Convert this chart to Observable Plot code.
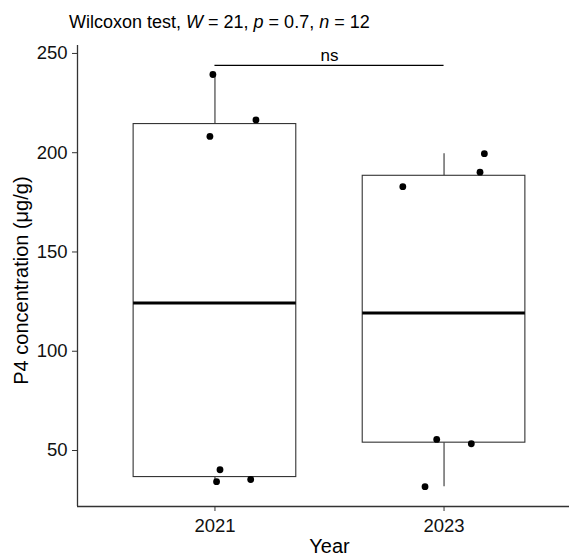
<!DOCTYPE html>
<html>
<head>
<meta charset="utf-8">
<script src="https://cdn.jsdelivr.net/npm/d3@7"></script>
<script src="https://cdn.jsdelivr.net/npm/@observablehq/plot@0.6"></script>
<style>
  html, body { margin: 0; padding: 0; background: #fff; }
  body { width: 569px; height: 557px; overflow: hidden; font-family: "Liberation Sans", Arial, sans-serif; }
  #title { height: 40px; box-sizing: border-box; padding-top: 13px; padding-left: 69px; font-size: 18px; line-height: 18px; color: #000; white-space: nowrap; }
  #chart svg { display: block; }
</style>
</head>
<body>
<div id="title"></div>
<div id="chart"></div>
<script>
// ---- data ----
const years = ["2021", "2023"];
const p4_2021 = [239.4, 216.5, 208.2, 40.3, 34.3, 35.4];
const p4_2023 = [199.5, 190.2, 182.9, 55.6, 53.4, 31.8];
const jitter_2021 = [-0.009, 0.179, -0.022, 0.022, 0.007, 0.156];
const jitter_2023 = [0.176, 0.157, -0.180, -0.032, 0.119, -0.083];
const yTicks = [50, 100, 150, 200, 250];
const testStats = { W: 21, p: 0.7, n: 12 };
const signifLabel = "ns";
const signifY = 244;
const yLabel = "P4 concentration (μg/g)";
const xLabel = "Year";

document.getElementById("title").innerHTML =
  `Wilcoxon test, <i>W</i> = ${testStats.W}, <i>p</i> = ${testStats.p}, <i>n</i> = ${testStats.n}`;

const groups = [
  { idx: 1, values: p4_2021, jitter: jitter_2021 },
  { idx: 2, values: p4_2023, jitter: jitter_2023 }
];

const points = groups.flatMap(g => g.values.map((v, i) => ({ x: g.idx + g.jitter[i], y: v })));

const boxW = 0.355;
const stats = groups.map(g => {
  const s = g.values.slice().sort(d3.ascending);
  const q1 = d3.quantile(s, 0.25), med = d3.quantile(s, 0.5), q3 = d3.quantile(s, 0.75);
  const iqr = q3 - q1;
  const lo = d3.min(s.filter(v => v >= q1 - 1.5 * iqr));
  const hi = d3.max(s.filter(v => v <= q3 + 1.5 * iqr));
  return { idx: g.idx, x1: g.idx - boxW, x2: g.idx + boxW, q1, med, q3, lo, hi };
});

const yMin = 21.8, yMax = 254;
const lineColor = "#333";

const plot = Plot.plot({
  width: 569,
  height: 517,
  marginLeft: 77,
  marginRight: 0,
  marginTop: 5,
  marginBottom: 51,
  style: { fontFamily: "'Liberation Sans', Arial, sans-serif", background: "#fff", color: "#000" },
  x: { domain: [0.4, 2.6], range: [77, 581] },
  y: { domain: [yMin, yMax] },
  marks: [
    // whiskers
    Plot.ruleX(stats, { x: "idx", y1: "q3", y2: "hi", stroke: lineColor, strokeWidth: 1.1 }),
    Plot.ruleX(stats, { x: "idx", y1: "lo", y2: "q1", stroke: lineColor, strokeWidth: 1.1 }),
    // boxes
    Plot.rect(stats, { x1: "x1", x2: "x2", y1: "q1", y2: "q3", fill: "#fff", stroke: lineColor, strokeWidth: 1.1 }),
    // medians
    Plot.ruleY(stats, { y: "med", x1: "x1", x2: "x2", stroke: "#000", strokeWidth: 3 }),
    // jittered points
    Plot.dot(points, { x: "x", y: "y", r: 3.4, fill: "#000", stroke: "none" }),
    // significance bracket
    Plot.ruleY([{ y: signifY, x1: 1, x2: 2 }], { y: "y", x1: "x1", x2: "x2", stroke: "#000", strokeWidth: 1.1 }),
    Plot.text([{ x: 1.5, y: signifY, t: signifLabel }], { x: "x", y: "y", text: "t", fontSize: 17, dy: -9.7, lineAnchor: "middle", fill: "#000" }),
    // axis lines
    Plot.ruleX([0.4], { stroke: lineColor, strokeWidth: 1.3 }),
    Plot.ruleY([yMin], { stroke: lineColor, strokeWidth: 1.3 }),
    // axes
    Plot.axisY({ ticks: yTicks, tickSize: 5, tickPadding: 5, fontSize: 18.5, label: null, stroke: lineColor, fill: "#111" }),
    Plot.axisX({ ticks: [1, 2], tickFormat: d => years[d - 1], tickSize: 5, tickPadding: 7, fontSize: 18.5, label: null, stroke: lineColor, fill: "#111" }),
    // axis titles
    Plot.text([xLabel], { x: [1.5], frameAnchor: "bottom", lineAnchor: "middle", dy: 40, fontSize: 20, fill: "#000" }),
    Plot.text([yLabel], { x: [0.4], y: [135.6], dx: -56.4, rotate: -90, lineAnchor: "middle", fontSize: 20, fill: "#000" })
  ]
});

document.getElementById("chart").appendChild(plot);
</script>
</body>
</html>
